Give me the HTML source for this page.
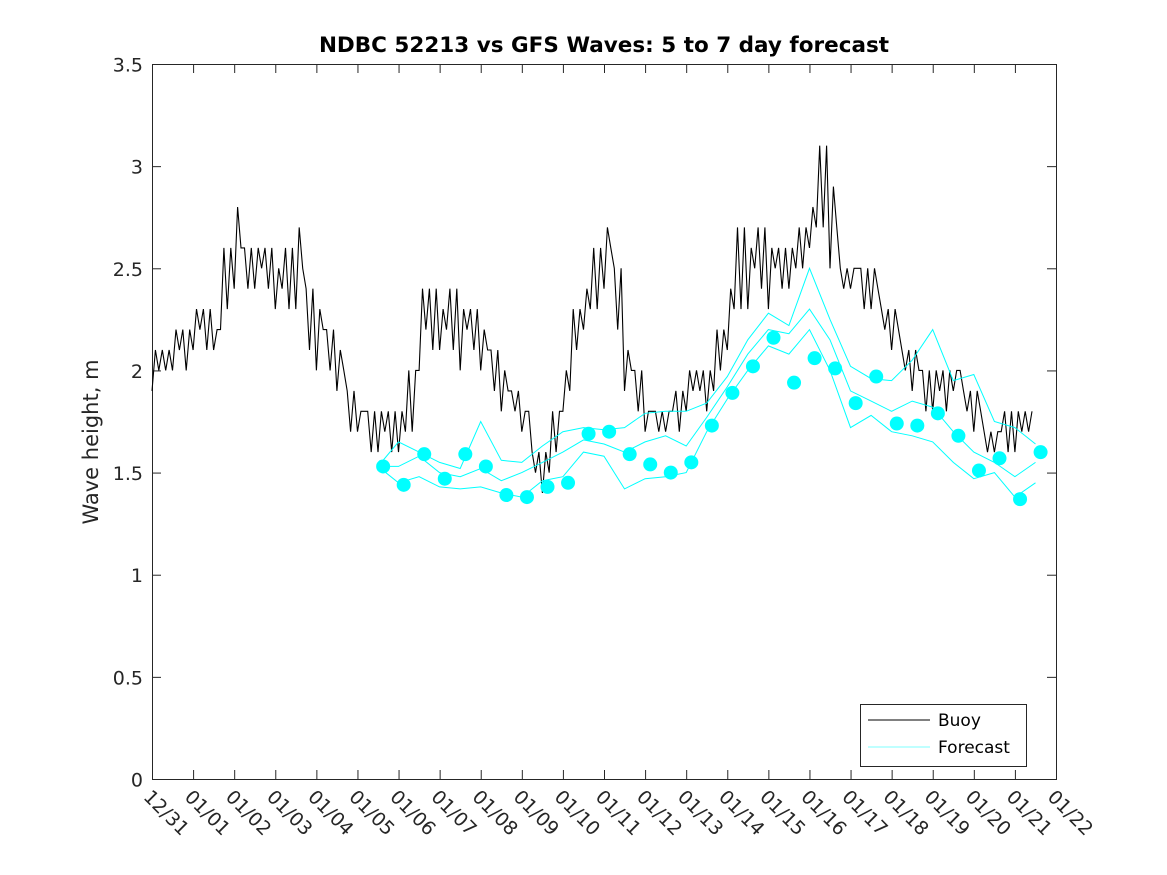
<!DOCTYPE html>
<html><head><meta charset="utf-8"><style>
html,body{margin:0;padding:0;background:#fff;}
svg{display:block;font-family:"DejaVu Sans","Liberation Sans",sans-serif;}
</style></head><body>
<svg id="chart" width="1167" height="875" viewBox="0 0 1167 875" xmlns="http://www.w3.org/2000/svg">
<rect width="1167" height="875" fill="#fff"/>
<text x="604" y="52" text-anchor="middle" font-size="21.5" font-weight="bold" fill="#000">NDBC 52213 vs GFS Waves: 5 to 7 day forecast</text>
<text transform="translate(98,442) rotate(-90)" text-anchor="middle" font-size="21" fill="#262626">Wave height, m</text>
<g id="axes"></g>
<g id="series"></g>
<g>
<rect x="860.5" y="704.5" width="166" height="62" fill="#fff" stroke="#262626" stroke-width="1"/>
<line x1="868" y1="720" x2="930" y2="720" stroke="#000" stroke-width="1"/>
<text x="938" y="726" font-size="17" fill="#000">Buoy</text>
<line x1="868" y1="747" x2="930" y2="747" stroke="#00ffff" stroke-width="0.6"/>
<text x="938" y="753" font-size="17" fill="#000">Forecast</text>
</g>
</svg>
<script>
const xTickLabels = ["12/31","01/01","01/02","01/03","01/04","01/05","01/06","01/07","01/08","01/09","01/10","01/11","01/12","01/13","01/14","01/15","01/16","01/17","01/18","01/19","01/20","01/21","01/22"];
const yTickLabels = ["0","0.5","1","1.5","2","2.5","3","3.5"];
const yTickValues = [0,0.5,1,1.5,2,2.5,3,3.5];
// buoy: quarter-day low/high envelopes starting day 0
const buoyLow = [1.9,2.0,2.0,2.0, 2.1,2.1,2.1,2.3, 2.4,2.4,2.4,2.4, 2.3,2.3,2.3,2.1, 2.0,2.0,1.9,1.7, 1.7,1.6,1.6,1.6, 1.6,1.7,2.0,2.1, 2.1,2.1,2.0,2.1, 2.0,1.9,1.8,1.8, 1.7,1.5,1.4,1.6, 1.8,2.1,2.2,2.3, 2.4,2.2,1.9,1.8, 1.7,1.7,1.7,1.7, 1.8,1.9,1.8,2.0, 2.1,2.3,2.3,2.4, 2.3,2.4,2.4,2.5, 2.6,2.7,2.5,2.4, 2.4,2.3,2.3,2.2, 2.1,2.0,1.9,1.8, 1.8,1.8,1.9,1.8, 1.7,1.6,1.6,1.6, 1.6,1.7];
const buoyHigh = [2.1,2.1,2.2,2.2, 2.3,2.3,2.2,2.6, 2.8,2.6,2.6,2.6, 2.5,2.6,2.7,2.4, 2.3,2.2,2.1,1.9, 1.8,1.8,1.8,1.8, 1.8,2.0,2.4,2.4, 2.3,2.4,2.3,2.3, 2.2,2.1,2.0,1.9, 1.8,1.6,1.6,1.8, 2.0,2.3,2.4,2.6, 2.7,2.5,2.1,2.0, 1.8,1.8,1.8,1.9, 2.0,2.0,2.0,2.2, 2.4,2.7,2.6,2.7, 2.6,2.6,2.6,2.7, 2.8,3.1,2.9,2.5, 2.5,2.5,2.5,2.3, 2.3,2.1,2.1,2.0, 2.0,2.0,2.0,1.9, 1.9,1.7,1.7,1.8, 1.8,1.8];
// forecast dots every half day from day 5.625
const dotValues = [1.53,1.44,1.59,1.47,1.59,1.53,1.39,1.38,1.43,1.45,1.69,1.70,1.59,1.54,1.50,1.55,1.73,1.89,2.02,2.16,1.94,2.06,2.01,1.84,1.97,1.74,1.73,1.79,1.68,1.51,1.57,1.37,1.60];
// forecast run lines, half-day steps from day 5.5
const runUpper = [1.53,1.65,1.60,1.55,1.52,1.75,1.56,1.55,1.63,1.70,1.72,1.71,1.72,1.79,1.80,1.80,1.84,1.97,2.15,2.28,2.22,2.50,2.25,2.02,1.96,1.95,2.05,2.20,1.95,1.98,1.75,1.72,1.64];
const runMiddle = [1.53,1.53,1.58,1.50,1.48,1.52,1.46,1.50,1.55,1.60,1.66,1.64,1.60,1.65,1.68,1.63,1.77,1.92,2.08,2.20,2.18,2.30,2.15,1.90,1.85,1.80,1.85,1.82,1.70,1.60,1.55,1.48,1.55];
const runLower = [1.53,1.45,1.48,1.43,1.42,1.43,1.40,1.38,1.46,1.48,1.60,1.58,1.42,1.47,1.48,1.50,1.70,1.86,2.00,2.12,2.08,2.20,2.00,1.72,1.78,1.70,1.68,1.65,1.55,1.47,1.50,1.38,1.45];

const X0=152, X1=1056, Y0=779, Y1=64, NDAYS=22, YMAX=3.5;
const xs = d => X0 + d*(X1-X0)/NDAYS;
const ys = v => Y0 - v*(Y0-Y1)/YMAX;
const NS="http://www.w3.org/2000/svg";
function mk(tag, attrs, parent){ const e=document.createElementNS(NS,tag); for(const k in attrs) e.setAttribute(k,attrs[k]); parent.appendChild(e); return e; }

const axes=document.getElementById('axes');
const box=mk('rect',{x:X0+0.5,y:Y1+0.5,width:X1-X0,height:Y0-Y1,fill:'none',stroke:'#262626','stroke-width':1},axes);


xTickLabels.forEach((lab,i)=>{
  const x=xs(i)+0.5;
  if(i>0&&i<NDAYS){
    const t1=mk('line',{x1:x,y1:Y0,x2:x,y2:Y0-9,stroke:'#262626'},axes);
    
    
    const t2=mk('line',{x1:x,y1:Y1,x2:x,y2:Y1+9,stroke:'#262626'},axes);
    
    
  }
  const tx=mk('text',{x:0,y:0,'font-size':19,fill:'#262626',transform:`translate(${x-10},${Y0+19}) rotate(45)`},axes);
  
  
  tx.textContent=lab;
});
yTickValues.forEach((v,i)=>{
  const y=ys(v)+0.5;
  if(i>0&&i<yTickValues.length-1){
    const t1=mk('line',{x1:X0,y1:y,x2:X0+9,y2:y,stroke:'#262626'},axes);
    
    
    const t2=mk('line',{x1:X1,y1:y,x2:X1-9,y2:y,stroke:'#262626'},axes);
    
    
  }
  const tx=mk('text',{x:X0-9,y:y+7,'text-anchor':'end','font-size':19,fill:'#262626'},axes);
  
  
  tx.textContent=yTickLabels[i];
});

const ser=document.getElementById('series');
// buoy line: zig-zag between quarter-day low/high, 3 samples per quarter-day
let pts=[];
for(let q=0;q<buoyLow.length;q++){
  const lo=buoyLow[q], hi=buoyHigh[q];
  const seq=(q%2===0)?[lo,hi,(lo+hi)/2]:[hi,lo,hi];
  for(let h=0;h<3;h++){
    const d=q*0.25+h*0.25/3;
    const v=Math.round(seq[h]*10)/10;
    pts.push(xs(d).toFixed(1)+','+ys(v).toFixed(1));
  }
}
const bl=mk('polyline',{points:pts.join(' '),fill:'none',stroke:'#000','stroke-width':1.1},ser);



[runUpper,runMiddle,runLower].forEach((run,k)=>{
  const p=run.map((v,i)=>xs(5.5+i*0.5).toFixed(1)+','+ys(v).toFixed(1)).join(' ');
  const l=mk('polyline',{points:p,fill:'none',stroke:'#00ffff','stroke-width':1},ser);
  
  
});
dotValues.forEach((v,i)=>{
  const c=mk('circle',{cx:xs(5.625+i*0.5),cy:ys(v),r:7,fill:'#00ffff'},ser);
  
  
});
</script>
</body></html>
